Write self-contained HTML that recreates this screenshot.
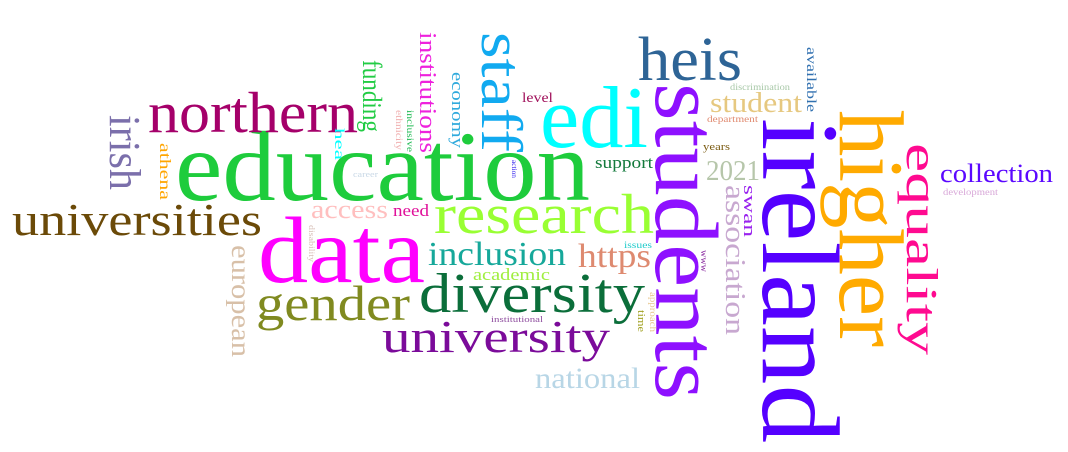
<!DOCTYPE html>
<html><head><meta charset="utf-8"><style>
html,body{margin:0;padding:0;background:#fff;}
svg{display:block;}
text{font-family:"Liberation Serif","DejaVu Serif",serif;}
</style></head><body>
<svg width="1068" height="452" viewBox="0 0 1068 452" xmlns="http://www.w3.org/2000/svg">
<rect width="1068" height="452" fill="#fff"/>
<g id="words"></g>
</svg>
<script>
// word, x, y(baseline for horizontal / start for vertical), length, font-size, color, vertical
const words = [
["education",175,200,415,100,"#1ecc3c",0],
["northern",148,132,210,58,"#a5006a",0],
["universities",12,235,250,46,"#6b4a08",0],
["data",258,282,167,94,"#ff00ff",0],
["research",434,233,220,56,"#99ff33",0],
["edi",540,147,108,88,"#00ffff",0],
["heis",638,80,104,62,"#2e6496",0],
["diversity",419,312,226,56,"#0b6e3a",0],
["gender",256,320,154,50,"#808a20",0],
["university",382,352,228,46,"#7b0b9a",0],
["inclusion",428,265,138,34,"#16a89a",0],
["https",578,267,73,34,"#de8a70",0],
["national",535,388,105,30,"#b8d6e6",0],
["access",311,218,77,26,"#ffbfbf",0],
["need",393,216,36,17,"#e0109a",0],
["academic",473,280,77,17,"#a0ee40",0],
["support",595,168,58,17,"#137a3c",0],
["2021",706,180,54,28,"#b6c6aa",0],
["student",710,112,92,28,"#e6c880",0],
["collection",940,182,113,26,"#5b08ff",0],
["level",522,102,31,14,"#a0105a",0],
["discrimination",730,90,60,9,"#a8c8a8",0],
["department",707,122,51,9,"#e08a70",0],
["years",703,150,27,11,"#7a5a10",0],
["issues",624,248,28,9,"#22cccc",0],
["career",353,177,25,8,"#c8d8e6",0],
["institutional",491,322,52,8,"#9050a0",0],
["development",943,195,55,9,"#d8a8d8",0],
["irish",110,115,75,44,"#7b6fab",1],
["athena",160,143,57,16,"#ffa500",1],
["european",232,245,112,27,"#d8c0a8",1],
["disability",309,225,37,8,"#d8c0b8",1],
["hea",335,128,32,14,"#00ffff",1],
["funding",363,60,72,27,"#22cc44",1],
["ethnicity",396,110,40,9,"#f0b0b0",1],
["inclusive",407,110,42,9,"#22bb55",1],
["institutions",420,32,121,24,"#ee22dd",1],
["economy",452,72,76,17,"#30aadd",1],
["staff",482,32,120,58,"#11aaf0",1],
["action",512,160,18,7,"#3322ee",1],
["students",656,83,317,90,"#8e10ff",1],
["ireland",763,118,325,110,"#5500ff",1],
["higher",840,110,237,92,"#ffaa00",1],
["equality",907,143,212,44,"#ff0a90",1],
["association",726,185,150,29,"#c8a8d0",1],
["swan",744,185,52,17,"#9922ee",1],
["www",701,250,22,9,"#8a2aa0",1],
["approach",650,292,40,9,"#e8c890",1],
["time",638,310,22,10,"#a0a020",1],
["available",807,47,65,14,"#3070b0",1]
];
const g = document.getElementById('words');
const NS = "http://www.w3.org/2000/svg";
words.forEach(w => {
  const t = document.createElementNS(NS, 'text');
  t.textContent = w[0];
  t.setAttribute('font-size', w[4]);
  t.setAttribute('fill', w[5]);
  t.setAttribute('textLength', w[3]);
  t.setAttribute('lengthAdjust', 'spacingAndGlyphs');
  if (w[6]) {
    t.setAttribute('transform', 'translate(' + w[1] + ',' + w[2] + ') rotate(90)');
  } else {
    t.setAttribute('x', w[1]);
    t.setAttribute('y', w[2]);
  }
  
  
  g.appendChild(t);
});
</script>
</body></html>
